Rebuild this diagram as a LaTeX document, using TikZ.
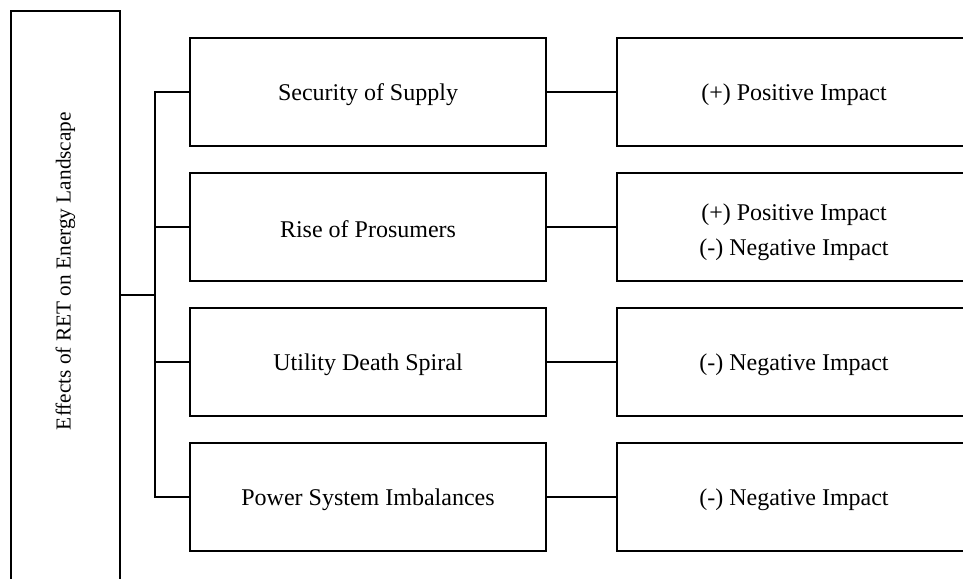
\documentclass[tikz,border=0pt]{standalone}
\usepackage{fontspec}
\setmainfont{Liberation Serif}
% invisible strut that lowers the text inside a box
\newcommand{\padtop}[1]{\rule{0pt}{#1}}
\begin{document}
\begin{tikzpicture}[x=1pt, y=-1pt, line width=2pt,
  every node/.style={font=\fontsize{24}{35}\selectfont},
  rootbox/.style={draw, line width=2pt, minimum width=109pt, minimum height=600pt, inner sep=0pt},
  titletext/.style={rotate=90, font=\fontsize{21.3}{26}\selectfont},
  effectbox/.style={draw, line width=2pt, minimum width=356pt, minimum height=108pt, inner sep=0pt, align=center},
  impactbox/.style={draw, line width=2pt, minimum width=354pt, minimum height=108pt, inner sep=0pt, align=center},
  link/.style={line width=2pt}]
\useasboundingbox (0,0) rectangle (963,578);
\clip (0,0) rectangle (963,578);

% root box (runs past the lower edge)
\node[rootbox] (root) at (65.5,311) {};
\node[titletext] (title) at (65.5,271) {Effects of RET on Energy Landscape};

% effect boxes
\node[effectbox] (m1) at (368,92)  {\padtop{22pt}Security of Supply};
\node[effectbox] (m2) at (368,227) {\padtop{22pt}Rise of Prosumers};
\node[effectbox] (m3) at (368,362) {\padtop{22pt}Utility Death Spiral};
\node[effectbox] (m4) at (368,497) {\padtop{22pt}Power System Imbalances};

% impact boxes (run past the right edge)
\node[impactbox] (r1) at (794,92)  {\padtop{22pt}(+) Positive Impact};
\node[impactbox] (r2) at (794,227) {\padtop{28pt}(+) Positive Impact\\(-) Negative Impact};
\node[impactbox] (r3) at (794,362) {\padtop{22pt}(-) Negative Impact};
\node[impactbox] (r4) at (794,497) {\padtop{22pt}(-) Negative Impact};

% tree connectors
\coordinate (trunk) at (155,295);
\draw[link] (root.east |- trunk) -- (trunk);
\draw[link] (m1.west) -- (m1.west -| trunk) -- (m4.west -| trunk) -- (m4.west);
\draw[link] (m2.west) -- (m2.west -| trunk);
\draw[link] (m3.west) -- (m3.west -| trunk);

% effect-to-impact links
\draw[link] (m1) -- (r1);
\draw[link] (m2) -- (r2);
\draw[link] (m3) -- (r3);
\draw[link] (m4) -- (r4);
\end{tikzpicture}
\end{document}
